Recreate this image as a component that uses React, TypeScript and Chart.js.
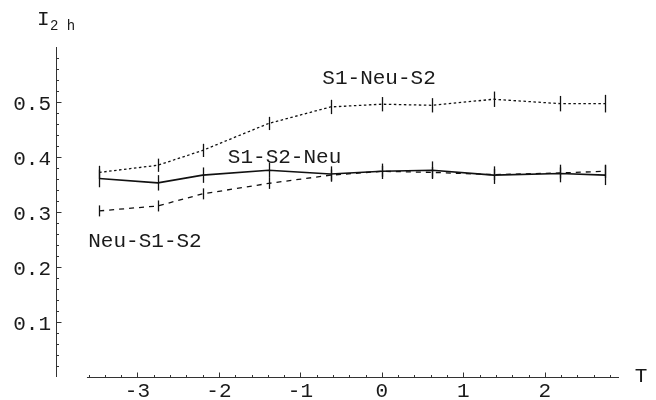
import React, { useEffect, useRef } from "react";
import { Chart, registerables } from "chart.js";

Chart.register(...registerables);

// ---- data ----
const tValues = [-3.47, -2.75, -2.2, -1.39, -0.63, 0, 0.62, 1.37, 2.19, 2.74];
const s1NeuS2 = [0.372, 0.385, 0.412, 0.461, 0.491, 0.496, 0.494, 0.505, 0.497, 0.497];
const s1S2Neu = [0.361, 0.353, 0.367, 0.376, 0.369, 0.374, 0.376, 0.367, 0.37, 0.367];
const neuS1S2 = [0.302, 0.311, 0.333, 0.352, 0.367, 0.374, 0.372, 0.368, 0.371, 0.374];
const s1NeuS2Err = [0.012, 0.012, 0.012, 0.012, 0.013, 0.013, 0.013, 0.014, 0.014, 0.016];
const s1S2NeuErr = [0.016, 0.014, 0.014, 0.014, 0.014, 0.014, 0.016, 0.016, 0.016, 0.018];
const neuS1S2Err = [0.01, 0.01, 0.01, 0.01, 0.01, 0.01, 0.01, 0.01, 0.01, 0.012];

const xTickLabels = ["-3", "-2", "-1", "0", "1", "2"];
const xTickValues = [-3, -2, -1, 0, 1, 2];
const yTickLabels = ["0.1", "0.2", "0.3", "0.4", "0.5"];
const yTickValues = [0.1, 0.2, 0.3, 0.4, 0.5];

const seriesNames = ["S1-Neu-S2", "S1-S2-Neu", "Neu-S1-S2"];
// label anchors in data coordinates (centre x, baseline y)
const labelT = [-0.035, -1.195, -2.908];
const labelV = [0.532, 0.389, 0.237];

const X_MIN = -4.0;
const X_MAX = 2.91;
const X_AXIS_START = -3.62;
const Y_MIN = 0;
const Y_MAX = 0.6;

const FONT = "'Liberation Mono', 'DejaVu Sans Mono', monospace";

export default function App() {
  const ref = useRef<HTMLCanvasElement | null>(null);

  useEffect(() => {
    document.body.style.margin = "0";
    const canvas = ref.current;
    if (!canvas) return;

    const mk = (vals: number[]) => vals.map((v, i) => ({ x: tValues[i], y: v }));
    const errs = [s1NeuS2Err, s1S2NeuErr, neuS1S2Err];
    const vals = [s1NeuS2, s1S2Neu, neuS1S2];

    const overlay = {
      id: "overlay",
      afterDatasetsDraw(chart: any) {
        const ctx = chart.ctx as CanvasRenderingContext2D;
        const xs = chart.scales.x;
        const ys = chart.scales.y;
        const px = (v: number) => xs.getPixelForValue(v);
        const py = (v: number) => ys.getPixelForValue(v);
        ctx.save();

        // error bars
        ctx.strokeStyle = "#111";
        ctx.lineWidth = 1.3;
        ctx.setLineDash([]);
        vals.forEach((arr, s) => {
          arr.forEach((v, i) => {
            const x = Math.round(px(tValues[i])) + 0.5;
            ctx.beginPath();
            ctx.moveTo(x, py(v - errs[s][i]));
            ctx.lineTo(x, py(v + errs[s][i]));
            ctx.stroke();
          });
        });

        // axes
        ctx.strokeStyle = "#333";
        ctx.lineWidth = 1;
        const y0 = Math.round(py(0)) + 0.5;
        const xAxisX = Math.round(px(X_MIN)) + 0.5;
        ctx.beginPath();
        ctx.moveTo(px(X_AXIS_START), y0);
        ctx.lineTo(px(X_MAX), y0);
        ctx.moveTo(xAxisX, py(0));
        ctx.lineTo(xAxisX, py(Y_MAX));
        ctx.stroke();

        // x ticks
        ctx.beginPath();
        for (let k = -18; k <= 14; k++) {
          const t = k / 5;
          if (t < X_AXIS_START) continue;
          const x = Math.round(px(t)) + 0.5;
          const major = k % 5 === 0;
          ctx.moveTo(x, y0);
          ctx.lineTo(x, y0 - (major ? 5 : 2.5));
        }
        // y ticks
        for (let k = 1; k <= 29; k++) {
          const v = k / 50;
          const y = Math.round(py(v)) + 0.5;
          const major = k % 5 === 0;
          ctx.moveTo(xAxisX, y);
          ctx.lineTo(xAxisX + (major ? 5 : 2.5), y);
        }
        ctx.stroke();

        ctx.fillStyle = "#1a1a1a";
        ctx.font = `21px ${FONT}`;
        ctx.textBaseline = "alphabetic";
        // x tick labels
        ctx.textAlign = "center";
        xTickValues.forEach((t, i) => {
          ctx.fillText(xTickLabels[i], px(t), 397);
        });
        // y tick labels
        ctx.textAlign = "right";
        yTickValues.forEach((v, i) => {
          ctx.fillText(yTickLabels[i], 51, py(v) + 8);
        });
        // axis titles
        ctx.textAlign = "center";
        ctx.fillText("T", 641, 382);
        ctx.textAlign = "left";
        ctx.fillText("I", 37, 25);
        ctx.font = `14px ${FONT}`;
        ctx.fillText("2 h", 50, 30);

        // series labels
        ctx.font = `21px ${FONT}`;
        ctx.textAlign = "center";
        seriesNames.forEach((n, i) => {
          ctx.fillText(n, px(labelT[i]), py(labelV[i]));
        });
        ctx.restore();
      },
    };

    const chart = new Chart(canvas, {
      type: "line",
      data: {
        datasets: [
          {
            label: seriesNames[0],
            data: mk(s1NeuS2),
            borderColor: "#111",
            borderWidth: 1.3,
            borderDash: [2.5, 2.5],
            pointRadius: 0,
            tension: 0,
            fill: false,
          },
          {
            label: seriesNames[1],
            data: mk(s1S2Neu),
            borderColor: "#111",
            borderWidth: 1.6,
            pointRadius: 0,
            tension: 0,
            fill: false,
          },
          {
            label: seriesNames[2],
            data: mk(neuS1S2),
            borderColor: "#111",
            borderWidth: 1.3,
            borderDash: [5, 5],
            pointRadius: 0,
            tension: 0,
            fill: false,
          },
        ],
      },
      options: {
        animation: false,
        responsive: false,
        layout: { padding: { left: 56, right: 37, top: 47, bottom: 23 } },
        plugins: { legend: { display: false }, tooltip: { enabled: false } },
        scales: {
          x: { type: "linear", min: X_MIN, max: X_MAX, display: false },
          y: { type: "linear", min: Y_MIN, max: Y_MAX, display: false },
        },
      },
      plugins: [overlay],
    });
    return () => chart.destroy();
  }, []);

  return (
    <div style={{ width: 656, height: 400, background: "#fff" }}>
      <canvas ref={ref} width={656} height={400} style={{ display: "block" }} />
    </div>
  );
}
